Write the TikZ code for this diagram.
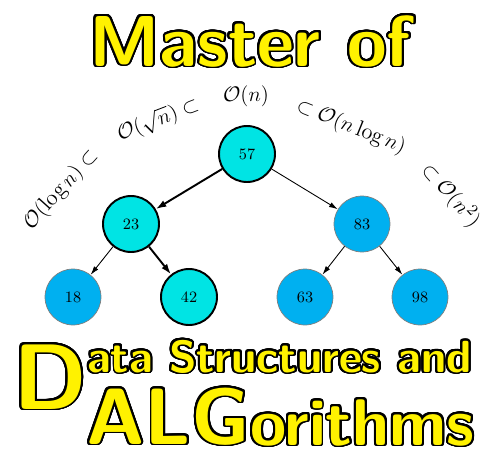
\documentclass[tikz,border=0pt]{standalone}
\usepackage{fontspec}
\usepackage{amsmath,amssymb,xcolor,contour}
\usetikzlibrary{arrows.meta,positioning}
\definecolor{keycyan}{RGB}{0,228,228}
\definecolor{keyblue}{RGB}{0,176,240}
\contourlength{1.1pt}
\contournumber{32}

\begin{document}
\begin{tikzpicture}[x=0.02cm,y=-0.02cm,every node/.style={font=\fontsize{9}{11}\selectfont},
    key/.style={circle,minimum size=1.12cm,inner sep=0pt},
    onpath/.style={key,draw=black,line width=1.1pt,fill=keycyan},
    offpath/.style={key,draw=gray,line width=0.4pt,fill=keyblue},
    hotedge/.style={-{Latex[length=6pt,width=4pt]},line width=1.1pt},
    coldedge/.style={-{Latex[length=5pt,width=3pt]},line width=0.5pt},
    title/.style={text=yellow,inner sep=0pt,anchor=base west},
    bigo/.style={font=\fontsize{12.8}{15}\selectfont,inner sep=0pt}]
  \useasboundingbox (0,0) rectangle (487,450);
  % title
  \node[title,font=\fontsize{41}{41}\selectfont\sffamily\bfseries] (master) at (89,66) {\contour{black}{Master of}};
  % complexity arc
  \node[bigo,rotate=48] (clog) at (61,190) {$\mathcal{O}(\log n)\subset$};
  \node[bigo,rotate=21] (csqrt) at (158,120) {$\mathcal{O}(\sqrt{n})\subset$};
  \node[bigo] (clin) at (246,96) {$\mathcal{O}(n)$};
  \node[bigo,rotate=-22] (cnlog) at (351,127) {$\subset\mathcal{O}(n\log n)$};
  \node[bigo,rotate=-49] (csq) at (451,195) {$\subset\mathcal{O}(n^2)$};
  % tree
  \node[onpath] (n57) at (247,154) {57};
  \node[onpath] (n23) at (131,224) {23};
  \node[offpath] (n83) at (362,224) {83};
  \node[offpath] (n18) at (73,297) {18};
  \node[onpath] (n42) at (189,297) {42};
  \node[offpath] (n63) at (305,297) {63};
  \node[offpath] (n98) at (420,297) {98};
  \draw[hotedge] (n57) -- (n23);
  \draw[coldedge] (n57) -- (n83);
  \draw[coldedge] (n23) -- (n18);
  \draw[hotedge] (n23) -- (n42);
  \draw[coldedge] (n83) -- (n63);
  \draw[coldedge] (n83) -- (n98);
  % bottom words
  \node[title,font=\fontsize{53}{53}\selectfont\sffamily\bfseries] (bigd) at (13,409) {\contour{black}{D}};
  \node[title,font=\fontsize{25.6}{26}\selectfont\sffamily\bfseries] (data) at (87,372) {\contour{black}{ata Structures and}};
  \node[title,font=\fontsize{45.5}{46}\selectfont\sffamily\bfseries] (alg) at (86,444) {\contour{black}{ALG}};
  \node[title,font=\fontsize{37.5}{38}\selectfont\sffamily\bfseries] (rithm) at (250,445) {\contour{black}{orithms}};
\end{tikzpicture}
\end{document}
